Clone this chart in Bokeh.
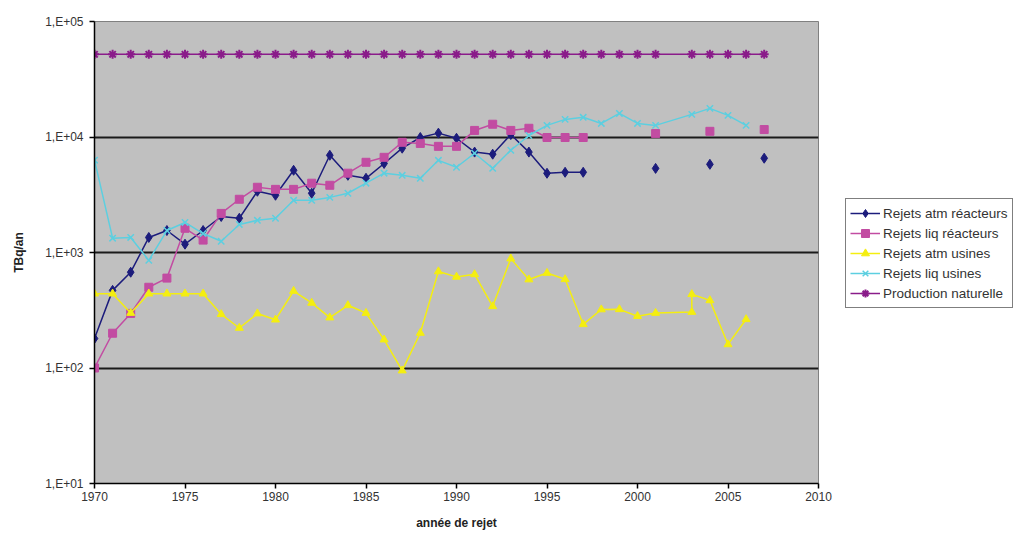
from bokeh.plotting import figure
from bokeh.layouts import row
from bokeh.models import (Range1d, FixedTicker, CustomJSTickFormatter, Legend, LegendItem)
from bokeh.embed import file_html
from bokeh.resources import INLINE

nan = float("nan")

# Years with data (no 2002 entry)
years = [1970, 1971, 1972, 1973, 1974, 1975, 1976, 1977, 1978, 1979,
         1980, 1981, 1982, 1983, 1984, 1985, 1986, 1987, 1988, 1989,
         1990, 1991, 1992, 1993, 1994, 1995, 1996, 1997, 1998, 1999,
         2000, 2001, 2003, 2004, 2005, 2006, 2007]

atm_reacteurs = [180, 470, 675, 1350, 1550, 1180, 1550, 2050, 1980, 3390,
                 3130, 5150, 3260, 6950, 4660, 4390, 5900, 8000, 9900, 10800,
                 9750, 7400, 7100, 10500, 7400, 4850, 4950, 4950, nan, nan,
                 nan, 5350, nan, 5800, nan, nan, 6550]

liq_reacteurs = [100, 200, 297, 500, 600, 1620, 1280, 2180, 2890, 3670,
                 3520, 3520, 3980, 3820, 4860, 6040, 6670, 9000, 8800, 8300,
                 8300, 11400, 12900, 11400, 11900, 9900, 9900, 9900, nan, nan,
                 nan, 10700, nan, 11200, nan, nan, 11600]

liq_usines = [6300, 1330, 1350, 855, 1550, 1820, 1460, 1250, 1750, 1900,
              1980, 2830, 2830, 3000, 3260, 3980, 4860, 4660, 4390, 6280,
              5470, 7230, 5360, 7680, 10300, 12600, 14200, 14800, 13100, 16000,
              13100, 12600, 15700, 17700, 15400, 12600, nan]

production_naturelle = [52000, 52000, 52000, 52000, 52000, 52000, 52000, 52000, 52000, 52000,
                        52000, 52000, 52000, 52000, 52000, 52000, 52000, 52000, 52000, 52000,
                        52000, 52000, 52000, 52000, 52000, 52000, 52000, 52000, 52000, 52000,
                        52000, 52000, 52000, 52000, 52000, 52000, 52000]

# Atmospheric releases from plants: two values recorded for 2003
years_atm_usines = [1970, 1971, 1972, 1973, 1974, 1975, 1976, 1977, 1978, 1979,
                    1980, 1981, 1982, 1983, 1984, 1985, 1986, 1987, 1988, 1989,
                    1990, 1991, 1992, 1993, 1994, 1995, 1996, 1997, 1998, 1999,
                    2000, 2001, 2003, 2003, 2004, 2005, 2006]
atm_usines = [440, 440, 299, 440, 440, 440, 440, 292, 222, 296,
              262, 464, 366, 273, 349, 299, 176, 95, 201, 685,
              615, 647, 342, 885, 583, 664, 586, 239, 321, 322,
              281, 299, 305, 435, 385, 160, 264]

series_names = ["Rejets atm réacteurs", "Rejets liq réacteurs", "Rejets atm usines",
                "Rejets liq usines", "Production naturelle"]

x_ticks = [1970, 1975, 1980, 1985, 1990, 1995, 2000, 2005, 2010]
y_ticks = [10, 100, 1000, 10000, 100000]

FONT = "Liberation Sans"

c_navy = "#1c1c7c"
c_magenta = "#c24ca2"
c_yellow = "#f4ee10"
c_cyan = "#5ccfe0"
c_purple = "#8a1c8a"

# Marker style per series: (colour, marker, size, filled, outline width)
styles = [
    (c_navy, "diamond", 10, True, 1),
    (c_magenta, "square", 8, True, 1),
    (c_yellow, "triangle", 8, True, 1),
    (c_cyan, "x", 9, False, 1.5),
    (c_purple, "asterisk", 9, False, 2),
]

# ---- main chart -------------------------------------------------------
p = figure(width=843, height=533, y_axis_type="log",
           x_range=Range1d(1970, 2010), y_range=Range1d(10, 100000),
           output_backend="svg", toolbar_location=None,
           min_border_left=94, min_border_right=25,
           min_border_top=21, min_border_bottom=50)

p.background_fill_color = "#c0c0c0"
p.border_fill_color = "white"
p.outline_line_color = "#808080"
p.outline_line_width = 1

p.xgrid.grid_line_color = None
p.ygrid.grid_line_color = "#1a1a1a"
p.ygrid.grid_line_width = 2

p.xaxis.ticker = FixedTicker(ticks=x_ticks)
p.yaxis.ticker = FixedTicker(ticks=y_ticks)
p.yaxis.formatter = CustomJSTickFormatter(
    code='var e = Math.round(Math.log10(tick)); return "1,E+" + (e < 10 ? "0" : "") + e;')

for ax in (p.xaxis[0], p.yaxis[0]):
    ax.axis_line_color = "black"
    ax.axis_line_width = 1.5
    ax.major_tick_line_color = "black"
    ax.major_tick_line_width = 1.5
    ax.major_tick_out = 5
    ax.major_tick_in = 0
    ax.minor_tick_line_color = None
    ax.major_label_text_font = FONT
    ax.major_label_text_font_size = "12px"
    ax.major_label_text_color = "#333333"
    ax.axis_label_text_font = FONT
    ax.axis_label_text_font_size = "12px"
    ax.axis_label_text_font_style = "bold"
    ax.axis_label_text_color = "#222222"

p.xaxis.axis_label = "année de rejet"
p.xaxis.major_label_standoff = 3
p.xaxis.axis_label_standoff = 12
p.yaxis.axis_label = "TBq/an"
p.yaxis.major_label_standoff = 6
p.yaxis.axis_label_standoff = 16

series = [
    (years, atm_reacteurs),
    (years, liq_reacteurs),
    (years_atm_usines, atm_usines),
    (years, liq_usines),
    (years, production_naturelle),
]


def draw(fig, xs, ys, style):
    color, marker, size, filled, lw = style
    ln = fig.line(xs, ys, line_color=color, line_width=1.5)
    mk = fig.scatter(xs, ys, marker=marker, size=size,
                     fill_color=color if filled else None,
                     line_color=color, line_width=lw)
    return ln, mk


for (xs, ys), st in zip(series, styles):
    draw(p, xs, ys, st)

# ---- legend panel -----------------------------------------------------
lg = figure(width=184, height=533, x_range=Range1d(0, 1), y_range=Range1d(0, 1),
            output_backend="svg", toolbar_location=None,
            min_border=0, min_border_left=0, min_border_right=0,
            min_border_top=0, min_border_bottom=0)
lg.axis.visible = False
lg.grid.visible = False
lg.outline_line_color = None
lg.background_fill_color = "white"
lg.border_fill_color = "white"

items = []
for name, st in zip(series_names, styles):
    # one off-range point so each legend swatch has a style to draw with
    ln, mk = draw(lg, [5], [5], st)
    items.append(LegendItem(label=name, renderers=[ln, mk]))

legend = Legend(items=items, location=(2, 175), orientation="vertical",
                border_line_color="black", border_line_width=1.5,
                background_fill_color="white", background_fill_alpha=1,
                label_text_font=FONT, label_text_font_size="13.5px",
                label_text_color="#333333",
                glyph_width=30, glyph_height=20, label_height=20,
                label_standoff=3, spacing=0, padding=4, margin=0)
lg.add_layout(legend, "center")

layout = row(p, lg, spacing=0)
open("out.html", "w").write(file_html(layout, INLINE))
